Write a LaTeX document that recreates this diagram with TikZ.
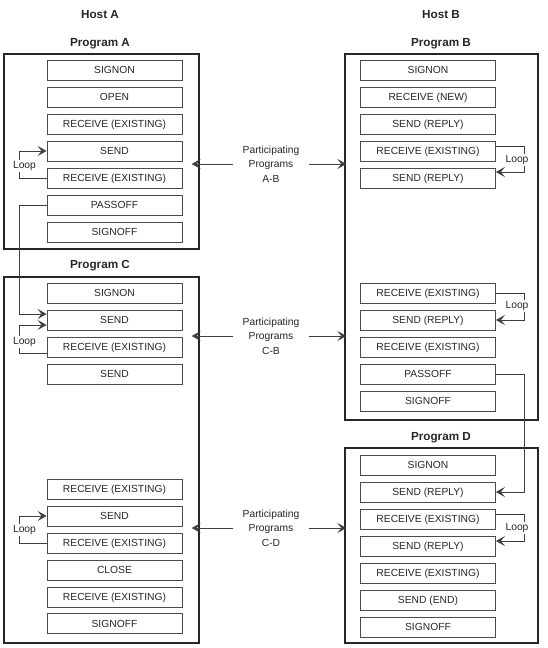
\documentclass[tikz,border=0pt]{standalone}
\usepackage{fontspec}
\setmainfont{Liberation Sans}
\usetikzlibrary{arrows.meta}
\begin{document}
\begin{tikzpicture}[x=1pt,y=-1pt,
  every node/.style={font=\fontsize{10.3}{12}\selectfont, text=black!85},
  pbox/.style={draw=black!70, line width=0.8pt, minimum width=135, minimum height=20, inner sep=0pt, text height=7.4pt, text depth=0pt},
  frame/.style={draw=black!85, line width=1.3pt, inner sep=0pt},
  title/.style={font=\fontsize{11.7}{14}\selectfont\bfseries},
  conn/.style={draw=black!75, line width=0.8pt},
  tip/.style={-{Stealth[length=9pt,width=10pt,inset=4pt]}},
  ptext/.style={align=center, font=\fontsize{10.3}{14.5}\selectfont, inner xsep=9pt},
  looplab/.style={fill=white, inner sep=1.5pt}
  ]
\useasboundingbox (0,0) rectangle (548,648);

% titles
\node[title] (hA) at (100,15) {Host A};
\node[title] (hB) at (441,15) {Host B};
\node[title] (tA) at (100,44) {Program A};
\node[title] (tB) at (441,44) {Program B};
\node[title] (tC) at (100,266) {Program C};
\node[title] (tD) at (441,438) {Program D};

% frames
\node[frame, minimum width=195, minimum height=195] (A) at (101.5,151.5) {};
\node[frame, minimum width=195, minimum height=366] (C) at (101.5,460) {};
\node[frame, minimum width=193, minimum height=366] (B) at (441.5,237) {};
\node[frame, minimum width=193, minimum height=195] (D) at (441.5,545.5) {};

% Program A
\node[pbox] (a1) at (114.5,70) {SIGNON};
\node[pbox] (a2) at (114.5,97) {OPEN};
\node[pbox] (a3) at (114.5,124) {RECEIVE (EXISTING)};
\node[pbox] (a4) at (114.5,151) {SEND};
\node[pbox] (a5) at (114.5,178) {RECEIVE (EXISTING)};
\node[pbox] (a6) at (114.5,205) {PASSOFF};
\node[pbox] (a7) at (114.5,232) {SIGNOFF};

% Program C
\node[pbox] (c1) at (114.5,293) {SIGNON};
\node[pbox] (c2) at (114.5,320) {SEND};
\node[pbox] (c3) at (114.5,347) {RECEIVE (EXISTING)};
\node[pbox] (c4) at (114.5,374) {SEND};
\node[pbox] (c5) at (114.5,489) {RECEIVE (EXISTING)};
\node[pbox] (c6) at (114.5,516) {SEND};
\node[pbox] (c7) at (114.5,543) {RECEIVE (EXISTING)};
\node[pbox] (c8) at (114.5,570) {CLOSE};
\node[pbox] (c9) at (114.5,597) {RECEIVE (EXISTING)};
\node[pbox] (c10) at (114.5,623.5) {SIGNOFF};

% Program B
\node[pbox] (b1) at (428,70) {SIGNON};
\node[pbox] (b2) at (428,97) {RECEIVE (NEW)};
\node[pbox] (b3) at (428,124) {SEND (REPLY)};
\node[pbox] (b4) at (428,151) {RECEIVE (EXISTING)};
\node[pbox] (b5) at (428,178) {SEND (REPLY)};
\node[pbox] (b6) at (428,293) {RECEIVE (EXISTING)};
\node[pbox] (b7) at (428,320) {SEND (REPLY)};
\node[pbox] (b8) at (428,347) {RECEIVE (EXISTING)};
\node[pbox] (b9) at (428,374) {PASSOFF};
\node[pbox] (b10) at (428,401) {SIGNOFF};

% Program D
\node[pbox] (d1) at (428,465) {SIGNON};
\node[pbox] (d2) at (428,492) {SEND (REPLY)};
\node[pbox] (d3) at (428,519) {RECEIVE (EXISTING)};
\node[pbox] (d4) at (428,546) {SEND (REPLY)};
\node[pbox] (d5) at (428,573) {RECEIVE (EXISTING)};
\node[pbox] (d6) at (428,600) {SEND (END)};
\node[pbox] (d7) at (428,627) {SIGNOFF};

% participating programs
\node[ptext] (pab) at (271,164) {Participating\\Programs\\A-B};
\node[ptext] (pcb) at (271,336) {Participating\\Programs\\C-B};
\node[ptext] (pcd) at (271,528) {Participating\\Programs\\C-D};

\draw[conn,tip] (pab.west) -- ([xshift=-8pt]pab.west -| A.east);
\draw[conn,tip] (pab.east) -- ([xshift=2pt]pab.east -| B.west);
\draw[conn,tip] (pcb.west) -- ([xshift=-8pt]pcb.west -| C.east);
\draw[conn,tip] (pcb.east) -- ([xshift=2pt]pcb.east -| B.west);
\draw[conn,tip] (pcd.west) -- ([xshift=-8pt]pcd.west -| C.east);
\draw[conn,tip] (pcd.east) -- ([xshift=2pt]pcd.east -| D.west);

% loops and passoffs
\draw[conn,tip] (a5.west) -- ++(-27,0) |- (a4.west);
\node[looplab] (lA) at (24.5,166) {Loop};

\draw[conn,tip] (a6.west) -- ++(-27,0) |- ([yshift=6pt]c2.west);
\draw[conn,tip] ([yshift=-6pt]c3.west) -- ++(-27,0) |- ([yshift=-5pt]c2.west);
\node[looplab] (lC1) at (24.5,342) {Loop};

\draw[conn,tip] (c7.west) -- ++(-27,0) |- (c6.west);
\node[looplab] (lC2) at (24.5,530) {Loop};

\draw[conn,tip] ([yshift=5pt]b4.east) -- ++(28,0) |- ([yshift=6pt]b5.east);
\node[looplab] (lB1) at (517,160) {Loop};

\draw[conn,tip] (b6.east) -- ++(28,0) |- (b7.east);
\node[looplab] (lB2) at (517,306) {Loop};

\draw[conn,tip] (b9.east) -- ++(28,0) |- (d2.east);

\draw[conn,tip] ([yshift=5pt]d3.east) -- ++(28,0) |- ([yshift=5pt]d4.east);
\node[looplab] (lD) at (517,528) {Loop};
\end{tikzpicture}
\end{document}
